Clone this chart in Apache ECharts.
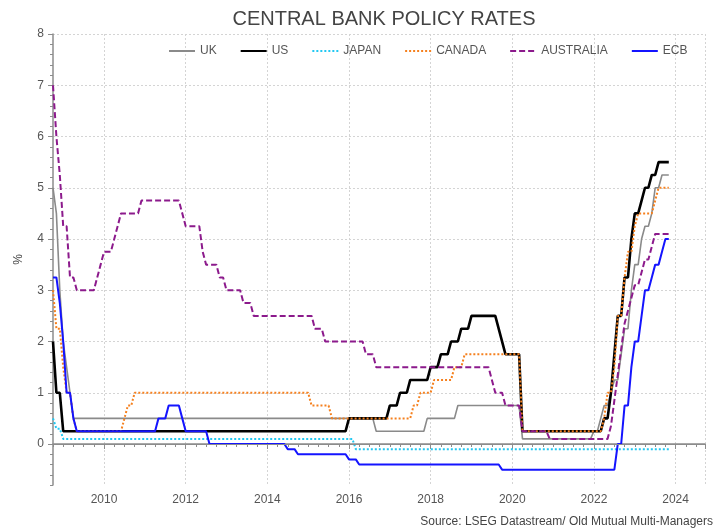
<!DOCTYPE html>
<html>
<head>
<meta charset="utf-8">
<title>Central bank policy rates</title>
<script src="https://cdn.jsdelivr.net/npm/echarts@6/dist/echarts.min.js"></script>
<style>
    html, body { margin: 0; padding: 0; background: #fff; }
    #chart { width: 717px; height: 530px; }
</style>
</head>
<body>
<div id="chart"></div>
<script>
// month-end policy rates, 'YYYY-MM' -> %
var seriesNames = ['UK', 'US', 'JAPAN', 'CANADA', 'AUSTRALIA', 'ECB'];
var yearLabels = [2010, 2012, 2014, 2016, 2018, 2020, 2022, 2024];
var rateLabels = [0, 1, 2, 3, 4, 5, 6, 7, 8];

var uk = [
    ['2008-09', 5.0], ['2008-10', 4.5], ['2008-11', 3.0], ['2008-12', 2.0], ['2009-01', 1.5],
    ['2009-02', 1.0], ['2009-03', 0.5], ['2016-07', 0.5], ['2016-08', 0.25], ['2017-10', 0.25],
    ['2017-11', 0.5], ['2018-07', 0.5], ['2018-08', 0.75], ['2020-02', 0.75], ['2020-03', 0.1],
    ['2021-11', 0.1], ['2021-12', 0.25], ['2022-01', 0.25], ['2022-02', 0.5], ['2022-03', 0.75],
    ['2022-04', 0.75], ['2022-05', 1.0], ['2022-06', 1.25], ['2022-07', 1.25], ['2022-08', 1.75],
    ['2022-09', 2.25], ['2022-10', 2.25], ['2022-11', 3.0], ['2022-12', 3.5], ['2023-01', 3.5],
    ['2023-02', 4.0], ['2023-03', 4.25], ['2023-04', 4.25], ['2023-05', 4.5], ['2023-06', 5.0],
    ['2023-07', 5.0], ['2023-08', 5.25], ['2023-10', 5.25]
];
var us = [
    ['2008-09', 2.0], ['2008-10', 1.0], ['2008-11', 1.0], ['2008-12', 0.25], ['2015-11', 0.25],
    ['2015-12', 0.5], ['2016-11', 0.5], ['2016-12', 0.75], ['2017-02', 0.75], ['2017-03', 1.0],
    ['2017-05', 1.0], ['2017-06', 1.25], ['2017-11', 1.25], ['2017-12', 1.5], ['2018-02', 1.5],
    ['2018-03', 1.75], ['2018-05', 1.75], ['2018-06', 2.0], ['2018-08', 2.0], ['2018-09', 2.25],
    ['2018-11', 2.25], ['2018-12', 2.5], ['2019-07', 2.5], ['2019-10', 1.75], ['2020-02', 1.75],
    ['2020-03', 0.25], ['2022-02', 0.25], ['2022-03', 0.5], ['2022-04', 0.5], ['2022-05', 1.0],
    ['2022-06', 1.75], ['2022-07', 2.5], ['2022-08', 2.5], ['2022-09', 3.25], ['2022-10', 3.25],
    ['2022-11', 4.0], ['2022-12', 4.5], ['2023-01', 4.5], ['2023-02', 4.75], ['2023-03', 5.0],
    ['2023-04', 5.0], ['2023-05', 5.25], ['2023-06', 5.25], ['2023-07', 5.5], ['2023-10', 5.5]
];
var japan = [
    ['2008-09', 0.5], ['2008-10', 0.3], ['2008-11', 0.3], ['2008-12', 0.1], ['2016-01', 0.1],
    ['2016-02', -0.1], ['2023-10', -0.1]
];
var canada = [
    ['2008-09', 3.0], ['2008-10', 2.25], ['2008-11', 2.25], ['2008-12', 1.5], ['2009-01', 1.0],
    ['2009-02', 1.0], ['2009-03', 0.5], ['2009-04', 0.25], ['2010-05', 0.25], ['2010-06', 0.5],
    ['2010-07', 0.75], ['2010-08', 0.75], ['2010-09', 1.0], ['2014-12', 1.0], ['2015-01', 0.75],
    ['2015-06', 0.75], ['2015-07', 0.5], ['2017-06', 0.5], ['2017-07', 0.75], ['2017-08', 0.75],
    ['2017-09', 1.0], ['2017-12', 1.0], ['2018-01', 1.25], ['2018-06', 1.25], ['2018-07', 1.5],
    ['2018-09', 1.5], ['2018-10', 1.75], ['2020-02', 1.75], ['2020-03', 0.25], ['2022-02', 0.25],
    ['2022-03', 0.5], ['2022-04', 1.0], ['2022-05', 1.0], ['2022-06', 1.5], ['2022-07', 2.5],
    ['2022-08', 2.5], ['2022-09', 3.25], ['2022-10', 3.75], ['2022-11', 3.75], ['2022-12', 4.25],
    ['2023-01', 4.5], ['2023-05', 4.5], ['2023-06', 4.75], ['2023-07', 5.0], ['2023-10', 5.0]
];
var australia = [
    ['2008-09', 7.0], ['2008-10', 6.0], ['2008-11', 5.25], ['2008-12', 4.25], ['2009-01', 4.25],
    ['2009-02', 3.25], ['2009-03', 3.25], ['2009-04', 3.0], ['2009-09', 3.0], ['2009-10', 3.25],
    ['2009-11', 3.5], ['2009-12', 3.75], ['2010-02', 3.75], ['2010-03', 4.0], ['2010-04', 4.25],
    ['2010-05', 4.5], ['2010-10', 4.5], ['2010-11', 4.75], ['2011-10', 4.75], ['2011-11', 4.5],
    ['2011-12', 4.25], ['2012-04', 4.25], ['2012-05', 3.75], ['2012-06', 3.5], ['2012-09', 3.5],
    ['2012-10', 3.25], ['2012-11', 3.25], ['2012-12', 3.0], ['2013-04', 3.0], ['2013-05', 2.75],
    ['2013-07', 2.75], ['2013-08', 2.5], ['2015-01', 2.5], ['2015-02', 2.25], ['2015-04', 2.25],
    ['2015-05', 2.0], ['2016-04', 2.0], ['2016-05', 1.75], ['2016-07', 1.75], ['2016-08', 1.5],
    ['2019-05', 1.5], ['2019-06', 1.25], ['2019-07', 1.0], ['2019-09', 1.0], ['2019-10', 0.75],
    ['2020-02', 0.75], ['2020-03', 0.25], ['2020-10', 0.25], ['2020-11', 0.1], ['2022-04', 0.1],
    ['2022-05', 0.35], ['2022-06', 0.85], ['2022-07', 1.35], ['2022-08', 1.85], ['2022-09', 2.35],
    ['2022-10', 2.6], ['2022-11', 2.85], ['2022-12', 3.1], ['2023-01', 3.1], ['2023-02', 3.35],
    ['2023-03', 3.6], ['2023-04', 3.6], ['2023-05', 3.85], ['2023-06', 4.1], ['2023-10', 4.1]
];
var ecb = [
    ['2008-09', 3.25], ['2008-10', 3.25], ['2008-11', 2.75], ['2008-12', 2.0], ['2009-01', 1.0],
    ['2009-02', 1.0], ['2009-03', 0.5], ['2009-04', 0.25], ['2011-03', 0.25], ['2011-04', 0.5],
    ['2011-06', 0.5], ['2011-07', 0.75], ['2011-10', 0.75], ['2011-11', 0.5], ['2011-12', 0.25],
    ['2012-06', 0.25], ['2012-07', 0.0], ['2014-05', 0.0], ['2014-06', -0.1], ['2014-08', -0.1],
    ['2014-09', -0.2], ['2015-11', -0.2], ['2015-12', -0.3], ['2016-02', -0.3], ['2016-03', -0.4],
    ['2019-08', -0.4], ['2019-09', -0.5], ['2022-06', -0.5], ['2022-07', 0.0], ['2022-08', 0.0],
    ['2022-09', 0.75], ['2022-10', 0.75], ['2022-11', 1.5], ['2022-12', 2.0], ['2023-01', 2.0],
    ['2023-02', 2.5], ['2023-03', 3.0], ['2023-04', 3.0], ['2023-05', 3.25], ['2023-06', 3.5],
    ['2023-07', 3.5], ['2023-08', 3.75], ['2023-09', 4.0], ['2023-10', 4.0]
];

var FONT = '"Liberation Sans", Arial, sans-serif';
var xMin = 2008.75, xMax = 2024.72;

// month-end as decimal year
function toPoints(list) {
    return list.map(function (d) {
        var p = d[0].split('-');
        return [+p[0] + (+p[1]) / 12, d[1]];
    });
}

function makeLine(name, data, color, width, type) {
    return {
        name: name,
        type: 'line',
        data: toPoints(data),
        symbol: 'none',
        silent: true,
        lineStyle: { color: color, width: width, type: type },
        itemStyle: { color: color }
    };
}

var series = [
    makeLine('UK', uk, '#8a8a8a', 1.6, 'solid'),
    makeLine('US', us, '#000000', 2.6, 'solid'),
    makeLine('JAPAN', japan, '#22c8f2', 2, [2, 2]),
    makeLine('CANADA', canada, '#f5801e', 2, [2, 2]),
    makeLine('AUSTRALIA', australia, '#8c1a8c', 2, [6, 3]),
    makeLine('ECB', ecb, '#1414ff', 2, 'solid')
];
series[2].markLine = {
    silent: true,
    symbol: 'none',
    label: { show: false },
    lineStyle: { color: '#8c8c8c', width: 1, type: 'solid' },
    data: [{ yAxis: 0 }]
};

var chart = echarts.init(document.getElementById('chart'));
chart.setOption({
    animation: false,
    backgroundColor: '#fff',
    title: {
        text: 'CENTRAL BANK POLICY RATES',
        left: 379,
        top: 4,
        textAlign: 'center',
        textStyle: { fontFamily: FONT, fontSize: 20, fontWeight: 'normal', color: '#444' }
    },
    legend: {
        data: seriesNames,
        left: 163,
        top: 40,
        itemWidth: 26,
        itemHeight: 10,
        itemGap: 23,
        itemStyle: { opacity: 0 },
        textStyle: { fontFamily: FONT, fontSize: 12, color: '#555' }
    },
    grid: { left: 53, right: 12, top: 34, bottom: 45 },
    xAxis: [{
        type: 'value',
        position: 'bottom',
        min: xMin,
        max: xMax,
        axisLine: { lineStyle: { color: '#8c8c8c', width: 1.5 } },
        axisTick: { customValues: yearLabels.concat([xMax]), length: 5, lineStyle: { color: '#8c8c8c' } },
        axisLabel: {
            customValues: yearLabels,
            margin: 9,
            fontFamily: FONT, fontSize: 12, color: '#555',
            formatter: function (v) { return String(v); }
        },
        splitLine: { show: true, lineStyle: { color: '#d4d4d4', type: [2, 2] } }
    }, {
        type: 'value',
        position: 'bottom',
        min: xMin,
        max: xMax,
        interval: 0.25,
        axisLine: { show: false },
        axisTick: { length: 3, lineStyle: { color: '#8c8c8c' } },
        axisLabel: { show: false },
        splitLine: { show: false }
    }],
    yAxis: [{
        type: 'value',
        position: 'left',
        min: -0.8,
        max: 8,
        name: '%',
        nameLocation: 'middle',
        nameRotate: 90,
        nameGap: 28,
        nameTextStyle: { fontFamily: FONT, fontSize: 12, color: '#444' },
        axisLine: { show: true, lineStyle: { color: '#8c8c8c', width: 1.5 } },
        axisTick: { show: true, customValues: rateLabels, length: 5, lineStyle: { color: '#8c8c8c' } },
        axisLabel: { customValues: rateLabels, margin: 9, fontFamily: FONT, fontSize: 12, color: '#555' },
        splitLine: { show: true, lineStyle: { color: '#d4d4d4', type: [2, 2] } }
    }, {
        type: 'value',
        position: 'left',
        min: -0.8,
        max: 8,
        interval: 0.2,
        axisLine: { show: false },
        axisTick: { show: true, length: 3, lineStyle: { color: '#8c8c8c' } },
        axisLabel: { show: false },
        splitLine: { show: false }
    }],
    graphic: [{
        type: 'text',
        right: 4,
        bottom: 2,
        style: {
            text: 'Source: LSEG Datastream/ Old Mutual Multi-Managers',
            font: '12px ' + FONT,
            fill: '#444'
        }
    }],
    series: series
});
</script>
</body>
</html>
